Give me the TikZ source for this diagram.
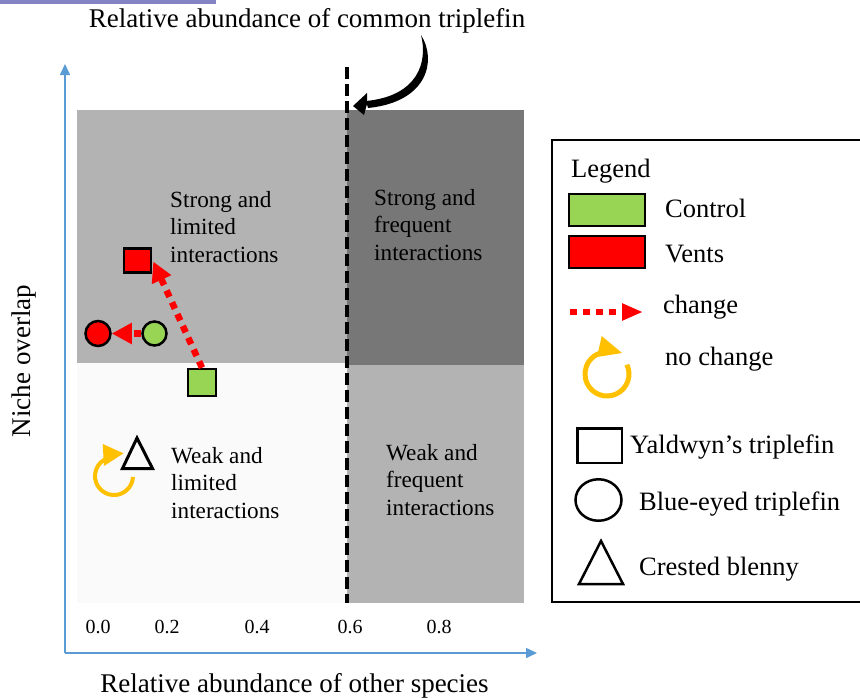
\documentclass[tikz,border=0pt]{standalone}
\usepackage{fontspec}
\setmainfont{Liberation Serif}
\usetikzlibrary{arrows.meta,calc,shapes.geometric}
\definecolor{axisblue}{HTML}{5B9BD5}
\definecolor{qlight}{HTML}{B3B3B3}
\definecolor{qdark}{HTML}{777777}
\definecolor{qwhite}{HTML}{FAFAFA}
\definecolor{cgreen}{HTML}{99D555}
\definecolor{vred}{HTML}{FF0000}
\definecolor{ringyellow}{HTML}{FFC000}
\definecolor{barpurple}{HTML}{8484C4}
\begin{document}
\begin{tikzpicture}[x=1pt,y=-1pt,
  bigtext/.style={font=\fontsize{27}{30}\selectfont, inner sep=0pt},
  legtext/.style={font=\fontsize{26.5}{30}\selectfont, inner sep=0pt, anchor=base west},
  quadtext/.style={font=\fontsize{23.2}{27.5}\selectfont, inner sep=0pt, align=left, anchor=north west},
  ticktext/.style={font=\fontsize{20}{22}\selectfont, inner sep=0pt, anchor=base},
  axis/.style={draw=axisblue, line width=1.6pt, -{Triangle[length=11pt,width=10pt]}},
  thresh/.style={draw=black, line width=4pt, dash pattern=on 12pt off 5pt},
  sym/.style={draw=black, line width=2.5pt, inner sep=0pt},
  chgplot/.style={draw=vred, line width=6.5pt, dash pattern=on 7pt off 6pt, -{Triangle[length=20pt,width=20pt]}},
  chgleg/.style={draw=vred, line width=6.5pt, dash pattern=on 7pt off 6pt, -{Triangle[length=21pt,width=16pt]}},
  ring/.style={draw=ringyellow, line width=4pt},
]
\useasboundingbox (0,0) rectangle (860,697);
\clip (0,0) rectangle (860,697);

% top purple bar
\fill[barpurple] (0,0) rectangle (216,4);

% quadrants
\fill[qlight] (77,110) rectangle (347,363);
\fill[qdark] (347,110) rectangle (524,365);
\fill[qwhite] (77,363) rectangle (347,603);
\fill[qlight] (347,365) rectangle (524,603);

% axes
\coordinate (origin) at (65,653);
\coordinate (ytip) at (65,64);
\coordinate (xtip) at (537,653);
\draw[axis] (origin) -- (ytip);
\draw[axis] (origin) -- (xtip);

% threshold line
\coordinate (dtop) at (347,67);
\coordinate (dbot) at (347,603);
\draw[thresh] (dtop) -- (dbot);

% title and curved arrow
\node[bigtext, anchor=base] (title) at (307,27) {Relative abundance of common triplefin};
\fill[black] (421,35) .. controls (437,60) and (428,102) .. (368,108)
  -- (366,101) .. controls (418,96) and (428,62) .. (421,35) -- cycle;
\fill[black] (353,106) -- (367,93) -- (367,104) -- (364,115) -- cycle;

% quadrant labels
\node[quadtext] (ql1) at (170,191) {Strong and\\limited\\interactions};
\node[quadtext] (ql2) at (374,189) {Strong and\\frequent\\interactions};
\node[quadtext] (ql3) at (171,447) {Weak and\\limited\\interactions};
\node[quadtext] (ql4) at (386,444) {Weak and\\frequent\\interactions};

% data symbols
\node[sym, rectangle, fill=vred, minimum width=27pt, minimum height=24pt] (rsq) at (137.5,260.5) {};
\node[sym, rectangle, fill=cgreen, minimum width=28pt, minimum height=27pt] (gsq) at (202,382.5) {};
\node[sym, circle, fill=vred, minimum size=25pt] (rc) at (98,333.5) {};
\node[sym, circle, fill=cgreen, minimum size=24pt] (gc) at (154.5,333.5) {};
\draw[chgplot] (gsq.north) -- ($(rsq.east)+(1,1)$);
\draw[chgplot] (gc) -- (rc);

% crested blenny + no change
\draw[sym, line width=3pt, line join=miter] (137,438) -- (152.5,468.5) -- (122.5,468.5) -- cycle;
\draw[ring] ([shift={(-3:19pt)}]114,476) arc[start angle=-3, end angle=-242, radius=19pt];
\fill[ringyellow] (102.7,444) -- (123.5,453.3) -- (104,466) -- cycle;

% tick labels
\node[ticktext] (t0) at (98,633) {0.0};
\node[ticktext] (t2) at (167,633) {0.2};
\node[ticktext] (t4) at (257,633) {0.4};
\node[ticktext] (t6) at (350,633) {0.6};
\node[ticktext] (t8) at (439,633) {0.8};

% axis labels
\node[bigtext, anchor=base] (xlab) at (294.5,692) {Relative abundance of other species};
\node[bigtext, rotate=90] (ylab) at (24,361) {Niche overlap};

% legend
\draw[line width=2pt] (552,140) rectangle (864,602);
\node[legtext] (lt) at (571,177) {Legend};
\node[sym, rectangle, fill=cgreen, minimum width=76pt, minimum height=32pt] (lg) at (607,210) {};
\node[sym, rectangle, fill=vred, minimum width=76pt, minimum height=32pt] (lr) at (607,252) {};
\node[legtext] (ltc) at (665,217) {Control};
\node[legtext] (ltv) at (665,262) {Vents};
\coordinate (cs) at (570,312);
\coordinate (ce) at (643,312);
\draw[chgleg] (cs) -- (ce);
\node[legtext] (ltch) at (663,313) {change};
\draw[ring, line width=5pt] ([shift={(25:22pt)}]607,374) arc[start angle=25, end angle=-252, radius=22pt];
\fill[ringyellow] (601.7,336) -- (622,353) -- (597,357) -- cycle;
\node[legtext] (ltnc) at (665,365) {no change};
\node[sym, rectangle, minimum width=44.5pt, minimum height=34.5pt] (lsq) at (599.5,445.5) {};
\node[legtext] (lty) at (630,453) {Yaldwyn’s triplefin};
\node[sym, ellipse, minimum width=46pt, minimum height=41.5pt] (lci) at (598.5,500) {};
\node[legtext] (ltb) at (639,510) {Blue-eyed triplefin};
\draw[sym, line width=2.5pt, line join=miter] (601,541) -- (623,584) -- (579,584) -- cycle;
\node[legtext] (ltcb) at (639,575) {Crested blenny};
\end{tikzpicture}
\end{document}
